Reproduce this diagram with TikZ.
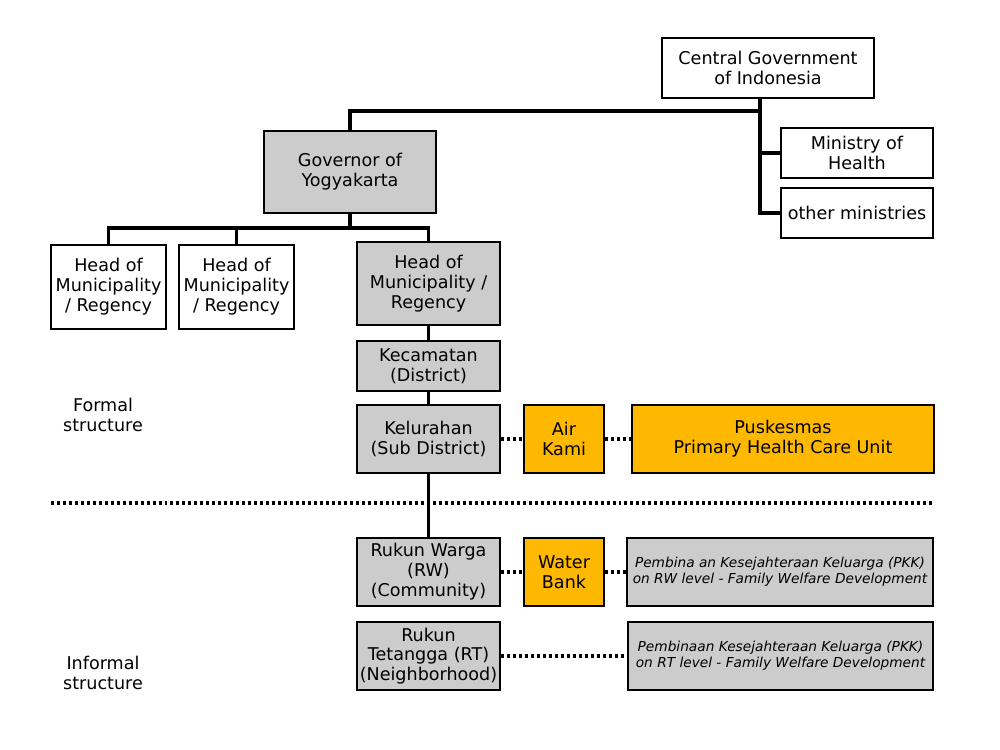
\documentclass[tikz,border=0pt]{standalone}
\usepackage{fontspec}
\setmainfont{DejaVu Sans}
\begin{document}
\begin{tikzpicture}[x=0.02cm,y=-0.02cm]
		\tikzset{box/.style = {draw, line width=1.4pt, align=center, font=\fontsize{10}{11.3}\selectfont, inner sep=1pt}}
		\tikzset{grey/.style = {box, fill=black!20}}
		\tikzset{gold/.style = {box, fill=orange!40!yellow!90!red}}
		\tikzset{conn/.style = {line width=2.2pt}}
		\tikzset{dots/.style = {line width=1.8pt, dash pattern=on 1.7pt off 1.7pt}}
		\tikzset{pkk/.style = {grey, font=\fontsize{7.8}{9}\selectfont\itshape}}

		\useasboundingbox (0,0) rectangle (1000,750);

		\node[box, minimum width=4.24cm, minimum height=1.2cm] (cg) at (768,68) {Central Government\\of Indonesia};
		\node[box, minimum width=3.04cm, minimum height=1cm] (moh) at (857,153) {Ministry of\\Health};
		\node[box, minimum width=3.04cm, minimum height=1cm] (oth) at (857,213) {other ministries};
		\node[grey, minimum width=3.44cm, minimum height=1.64cm] (gov) at (350,172) {Governor of\\Yogyakarta};

		\node[box, minimum width=2.3cm, minimum height=1.68cm] (h1) at (108.5,287) {Head of\\Municipality\\/ Regency};
		\node[box, minimum width=2.3cm, minimum height=1.68cm] (h2) at (236.5,287) {Head of\\Municipality\\/ Regency};
		\node[grey, minimum width=2.86cm, minimum height=1.66cm] (h3) at (428.5,283.5) {Head of\\Municipality /\\Regency};

		\node[grey, minimum width=2.86cm, minimum height=1cm] (kec) at (428.5,366) {Kecamatan\\(District)};
		\node[grey, minimum width=2.86cm, minimum height=1.36cm] (kel) at (428.5,439) {Kelurahan\\(Sub District)};
		\node[gold, minimum width=1.6cm, minimum height=1.36cm] (air) at (564,439) {Air\\Kami};
		\node[gold, minimum width=6.04cm, minimum height=1.36cm] (pus) at (783,439) {Puskesmas\\Primary Health Care Unit};

		\node[grey, minimum width=2.86cm, minimum height=1.36cm] (rw) at (428.5,572) {Rukun Warga\\(RW)\\(Community)};
		\node[gold, minimum width=1.6cm, minimum height=1.36cm] (wb) at (564,572) {Water\\Bank};
		\node[pkk, minimum width=6.12cm, minimum height=1.36cm] (pkkrw) at (780,572) {Pembina an Kesejahteraan Keluarga (PKK)\\on RW level - Family Welfare Development};

		\node[grey, minimum width=2.86cm, minimum height=1.36cm] (rt) at (428.5,656) {Rukun\\Tetangga (RT)\\(Neighborhood)};
		\node[pkk, minimum width=6.1cm, minimum height=1.36cm] (pkkrt) at (780.5,656) {Pembinaan Kesejahteraan Keluarga (PKK)\\on RT level - Family Welfare Development};

		\node[align=center, font=\fontsize{10}{11.3}\selectfont] (formal) at (103,415) {Formal\\structure};
		\node[align=center, font=\fontsize{10}{11.3}\selectfont] (informal) at (103,673) {Informal\\structure};

		\coordinate (j1) at (760,111);
		\coordinate (j2) at (348,228);

		\draw[conn] (cg.south -| j1) -- (j1 |- oth.west) -- (oth.west);
		\draw[conn] (j1 |- moh.west) -- (moh.west);
		\draw[conn] (j1) -- (j1 -| gov.north) -- (gov.north);

		\draw[conn] (gov.south) -- (gov.south |- j2);
		\draw[conn] (h1.north) -- (h1.north |- j2) -- (h3.north |- j2) -- (h3.north);
		\draw[conn] (h2.north) -- (h2.north |- j2);

		\draw[conn] (h3.south) -- (kec.north);
		\draw[conn] (kec.south) -- (kel.north);
		\draw[conn] (kel.south) -- (rw.north);

		\draw[dots] (kel.east) -- (air.west);
		\draw[dots] (air.east) -- (pus.west);
		\draw[dots] (rw.east) -- (wb.west);
		\draw[dots] (wb.east) -- (pkkrw.west);
		\draw[dots] (rt.east) -- (pkkrt.west);

		\draw[dots] (51,503) -- (933,503);

	\end{tikzpicture}
\end{document}
